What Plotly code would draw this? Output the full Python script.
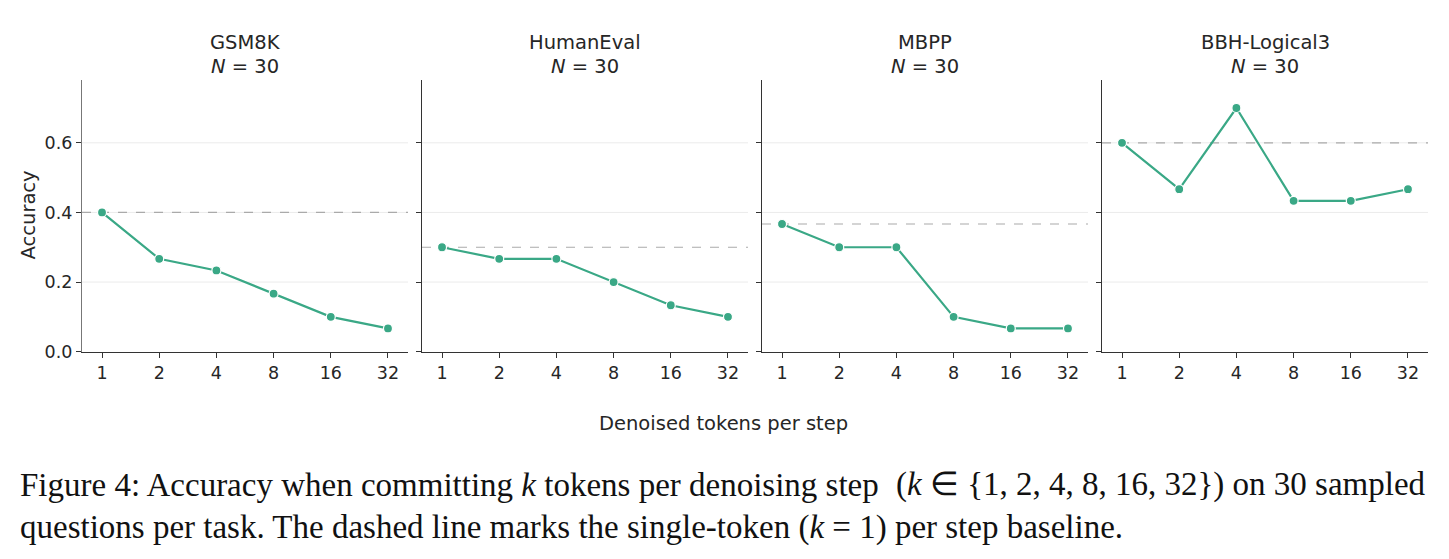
import plotly.graph_objects as go
from plotly.subplots import make_subplots

tasks = ["GSM8K", "HumanEval", "MBPP", "BBH-Logical3"]
n_questions = [30, 30, 30, 30]
k_values = ["1", "2", "4", "8", "16", "32"]
gsm8k = [0.4, 0.2667, 0.2333, 0.1667, 0.1, 0.0667]
humaneval = [0.3, 0.2667, 0.2667, 0.2, 0.1333, 0.1]
mbpp = [0.3667, 0.3, 0.3, 0.1, 0.0667, 0.0667]
bbh = [0.6, 0.4667, 0.7, 0.4333, 0.4333, 0.4667]
y_ticks = [0.0, 0.2, 0.4, 0.6]
series = [gsm8k, humaneval, mbpp, bbh]

W, H = 1449, 551
S = 0.98  # empirical vertical compensation
line_color = "#3aa886"
font = "DejaVu Sans"
txt = "#262626"
tick_size = 17.5
label_size = 19.5


def py(y):
    return (H - y / S) / H


fig = make_subplots(rows=1, cols=4, shared_yaxes=True)

lefts = [82, 422, 762, 1102]
width = 326
top, bottom = 80, 351

for i, (task, vals) in enumerate(zip(tasks, series)):
    col = i + 1
    fig.add_trace(go.Scatter(
        x=k_values, y=vals, mode="lines+markers",
        line=dict(color=line_color, width=2.2),
        marker=dict(size=9, color=line_color, line=dict(color="white", width=1.2)),
        showlegend=False), row=1, col=col)
    xa = "xaxis" if i == 0 else f"xaxis{col}"
    ya = "yaxis" if i == 0 else f"yaxis{col}"
    fig.layout[xa].update(
        domain=[lefts[i] / W, (lefts[i] + width) / W],
        type="category", range=[-0.35, 5.35],
        showline=True, linecolor="#333", linewidth=1.2,
        ticks="outside", ticklen=5, tickcolor="#333",
        showgrid=False, zeroline=False,
        tickfont=dict(family=font, size=tick_size, color=txt))
    fig.layout[ya].update(
        domain=[py(bottom), py(top)],
        range=[0, 0.78], tickvals=y_ticks,
        showline=True, linecolor="#777" if i == 0 else "#333", linewidth=1.2,
        ticks="outside", ticklen=5, tickcolor="#333",
        showgrid=False, zeroline=False,
        showticklabels=(i == 0),
        tickformat=".1f",
        tickfont=dict(family=font, size=tick_size, color=txt))
    xref = "x" if i == 0 else f"x{col}"
    yref = "y" if i == 0 else f"y{col}"
    # light horizontal grid
    for t in y_ticks[1:]:
        fig.add_shape(type="line", xref=f"{xref} domain", yref=yref,
                      x0=0, x1=1, y0=t, y1=t,
                      line=dict(color="#ebebeb", width=1), layer="below")
    # k=1 baseline
    fig.add_shape(type="line", xref=f"{xref} domain", yref=yref,
                  x0=0, x1=1, y0=vals[0], y1=vals[0],
                  line=dict(color="#aaaaaa", width=1.2, dash="dash"), layer="below")
    cx = (lefts[i] + width / 2) / W
    fig.add_annotation(xref="paper", yref="paper", x=cx, y=py(42),
                       xanchor="center", yanchor="middle", text=task,
                       showarrow=False, font=dict(family=font, size=label_size, color=txt))
    fig.add_annotation(xref="paper", yref="paper", x=cx, y=py(66),
                       xanchor="center", yanchor="middle",
                       text=f"<i>N</i> = {n_questions[i]}",
                       showarrow=False, font=dict(family=font, size=label_size, color=txt))

fig.add_annotation(xref="paper", yref="paper", x=28 / W, y=py(215),
                   text="Accuracy", textangle=-90, showarrow=False,
                   xanchor="center", yanchor="middle",
                   font=dict(family=font, size=label_size, color=txt))
fig.add_annotation(xref="paper", yref="paper", x=723 / W, y=py(423),
                   text="Denoised tokens per step", showarrow=False,
                   xanchor="center", yanchor="middle",
                   font=dict(family=font, size=label_size, color=txt))

cap_font = dict(family="Liberation Serif", size=33, color="#111")
cap_segments = [
    ("Figure 4: Accuracy when committing <i>k</i> tokens per denoising step", 18, "left", 484),
    ("(<i>k</i> ∈ {1, 2, 4, 8, 16, 32}) on 30 sampled", 1428, "right", 484),
    ("questions per task. The dashed line marks the single-token (<i>k</i> = 1) per step baseline.",
     18, "left", 527),
]
for text, x, anchor, y in cap_segments:
    fig.add_annotation(xref="paper", yref="paper", x=x / W, y=py(y),
                       text=text, showarrow=False, xanchor=anchor, yanchor="middle",
                       font=cap_font)

fig.update_layout(width=W, height=H, margin=dict(l=0, r=0, t=0, b=0),
                  paper_bgcolor="white", plot_bgcolor="white",
                  font=dict(family=font))
fig.write_html("out.html")
